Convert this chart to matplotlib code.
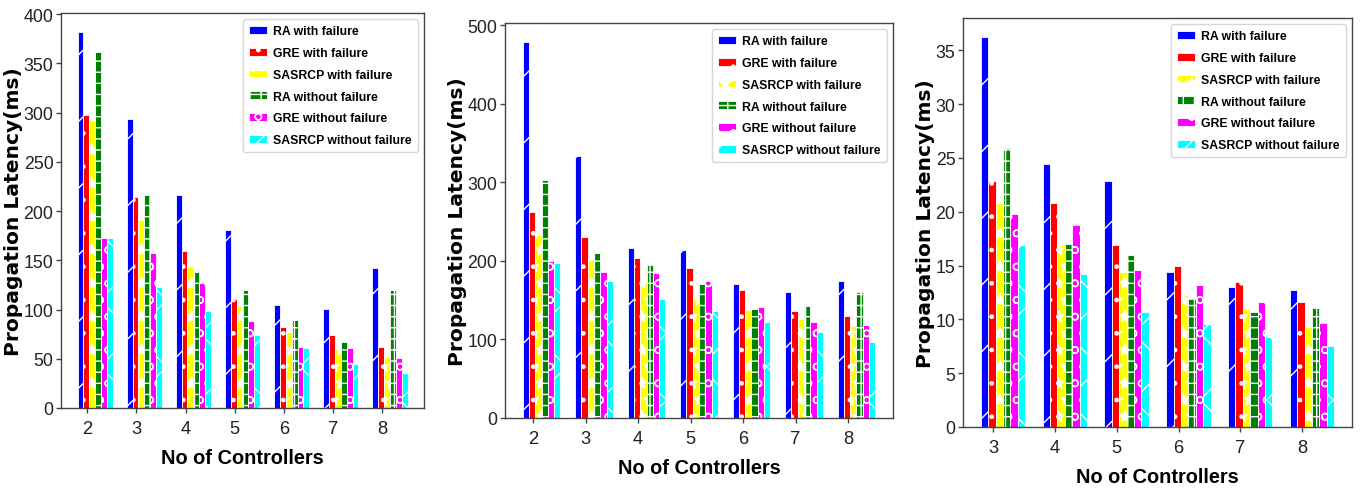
import matplotlib
matplotlib.use("Agg")
import matplotlib.pyplot as plt
import numpy as np

# ---------------- data ----------------
labels = ["RA with failure", "GRE with failure", "SASRCP with failure",
          "RA without failure", "GRE without failure", "SASRCP without failure"]

ctrl_a = [2, 3, 4, 5, 6, 7, 8]
ra_f_a = [382, 293, 216, 181, 105, 101, 142]
gre_f_a = [298, 214, 159, 111, 82, 74, 62]
sas_f_a = [297, 194, 143, 104, 77, 60, 52]
ra_nf_a = [361, 216, 139, 120, 89, 67, 120]
gre_nf_a = [173, 157, 127, 88, 62, 61, 51]
sas_nf_a = [173, 123, 99, 74, 61, 45, 36]

ctrl_b = [2, 3, 4, 5, 6, 7, 8]
ra_f_b = [479, 333, 217, 214, 170, 160, 174]
gre_f_b = [262, 230, 204, 191, 163, 136, 130]
sas_f_b = [233, 201, 175, 155, 137, 126, 117]
ra_nf_b = [303, 210, 195, 171, 139, 143, 160]
gre_nf_b = [200, 186, 185, 174, 141, 122, 118]
sas_nf_b = [197, 174, 152, 136, 122, 110, 97]

ctrl_c = [3, 4, 5, 6, 7, 8]
ra_f_c = [36.2, 24.4, 22.9, 14.4, 13.0, 12.7]
gre_f_c = [22.9, 20.8, 16.9, 15.0, 13.5, 11.6]
sas_f_c = [21.3, 16.9, 14.4, 12.3, 11.0, 9.3]
ra_nf_c = [25.9, 17.0, 16.0, 11.9, 10.7, 11.1]
gre_nf_c = [19.8, 18.8, 14.6, 13.2, 11.6, 9.7]
sas_nf_c = [16.9, 14.2, 10.7, 9.6, 8.4, 7.5]

colors = ["blue", "red", "yellow", "green", "magenta", "cyan"]
hatches = ["/", "..", "**", "+++", "oo", "x"]

# ---------------- style ----------------
plt.rcParams["hatch.linewidth"] = 0.5
sans = ["Liberation Sans", "DejaVu Sans"]

fig = plt.figure(figsize=(6.82, 2.445), dpi=200)
W, H = 1364.0, 489.0
boxes = [(61, 14, 424, 409), (505, 24, 893, 419), (963, 19, 1352, 428)]

panels = [
    (ctrl_a, [ra_f_a, gre_f_a, sas_f_a, ra_nf_a, gre_nf_a, sas_nf_a]),
    (ctrl_b, [ra_f_b, gre_f_b, sas_f_b, ra_nf_b, gre_nf_b, sas_nf_b]),
    (ctrl_c, [ra_f_c, gre_f_c, sas_f_c, ra_nf_c, gre_nf_c, sas_nf_c]),
]

w = 0.12
offsets = [-0.14 + i * w for i in range(6)]

for (l, t, r, b), (xs, series) in zip(boxes, panels):
    ax = fig.add_axes([l / W, (H - b) / H, (r - l) / W, (b - t) / H])
    x = np.array(xs, dtype=float)
    for i, vals in enumerate(series):
        ax.bar(x + offsets[i], vals, w, color=colors[i], edgecolor="white",
               linewidth=0.3, hatch=hatches[i], label=labels[i])
    ax.set_xticks(x)
    ax.set_xticklabels([str(v) for v in xs])
    for sp in ax.spines.values():
        sp.set_linewidth(0.5)
        sp.set_color("#444444")
    ax.tick_params(axis="x", length=1.8, width=0.5, pad=2.4,
                   labelsize=6.6, color="#444444")
    ax.tick_params(axis="y", length=1.7, width=0.5, pad=1.0,
                   labelsize=6.4, color="#444444")
    for lab in ax.get_xticklabels() + ax.get_yticklabels():
        lab.set_family(sans)
        lab.set_color("#222222")
    ax.set_xlabel("No of Controllers", fontsize=7.2, fontweight="bold",
                  family=sans, labelpad=4.2)
    ax.set_ylabel("Propagation Latency(ms)", fontsize=7.3, fontweight="bold",
                  family=["DejaVu Sans"], labelpad=0.2)
    leg = ax.legend(loc="upper right", prop={"family": sans, "weight": "bold", "size": 4.4},
                    handlelength=1.45, handleheight=0.6, labelspacing=0.8,
                    borderpad=0.5, handletextpad=0.55, borderaxespad=0.5)
    leg.get_frame().set_linewidth(0.5)

fig.savefig("out.png", dpi=200)
